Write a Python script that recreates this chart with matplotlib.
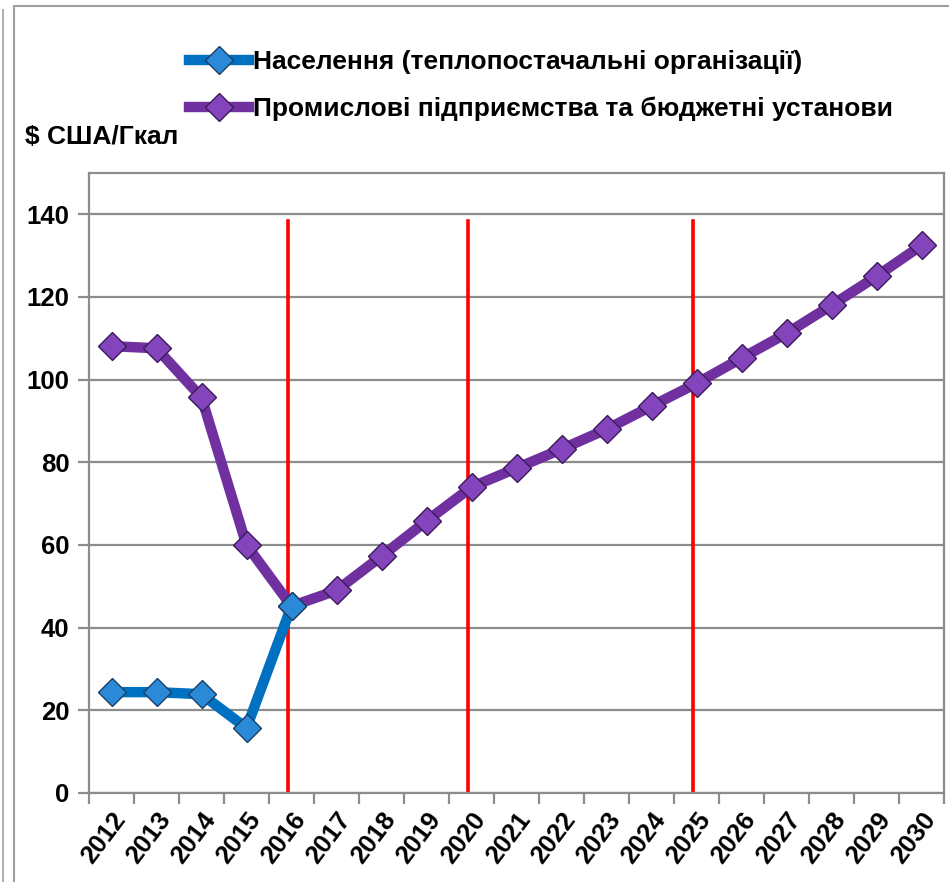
import numpy as np
import matplotlib.pyplot as plt
from matplotlib.patches import Rectangle

plt.rcParams['font.family'] = ['Liberation Sans', 'DejaVu Sans']
plt.rcParams['font.weight'] = 'bold'

years = [str(y) for y in range(2012, 2031)]
population = [24.4, 24.4, 23.9, 15.7, 45.2]
industry = [108.1, 107.6, 95.7, 60.0, 45.2, 49.0, 57.3, 65.8, 74.0, 78.6,
            83.2, 88.0, 93.6, 99.1, 105.2, 111.2, 118.0, 125.0, 132.5]
red_years = ['2016', '2020', '2025']
y_ticks = [0, 20, 40, 60, 80, 100, 120, 140]

label_pop = 'Населення (теплопостачальні організації)'
label_ind = 'Промислові підприємства та бюджетні установи'
unit_label = '$ США/Гкал'

grid_col = '#8c8c8c'

fig = plt.figure(figsize=(9.49, 8.82), dpi=100)
ax = fig.add_axes([89 / 949, 1 - 793 / 882, 855 / 949, 620 / 882])

x_all = np.arange(len(years))

for ry in red_years:
    xi = years.index(ry) - 0.07
    ax.plot([xi, xi], [0, 138.5], color='#ff0000', lw=2.6, zorder=2)

ax.plot(x_all[:len(population)], population, color='#0070c0', lw=7.5,
        marker='D', ms=14, mfc='#2a8ad8', mec='#1c3f66', mew=1.0,
        solid_joinstyle='round', label=label_pop, zorder=4)
ax.plot(x_all, industry, color='#7030a0', lw=7.5,
        marker='D', ms=14, mfc='#8444bc', mec='#3a1a58', mew=1.0,
        solid_joinstyle='round', label=label_ind, zorder=3)

ax.set_xlim(-0.5, len(years) - 0.5)
ax.set_ylim(0, 150)
ax.set_yticks(y_ticks)
ax.set_yticklabels([str(v) for v in y_ticks], fontsize=18.5, fontweight='bold')
ax.yaxis.grid(True, color=grid_col, lw=1.6)
ax.set_axisbelow(True)

ax.set_xticks(x_all)
ax.set_xticklabels(years, rotation=53, ha='right', va='top',
                   rotation_mode='anchor', fontsize=18.5, fontweight='bold')
ax.set_xticks(np.arange(-0.5, len(years)), minor=True)
ax.tick_params(axis='x', which='major', length=0, pad=11)
ax.tick_params(axis='x', which='minor', length=8, width=1.6, color=grid_col,
               direction='out')
ax.tick_params(axis='y', length=8, width=1.6, color=grid_col, direction='out', pad=6)

for sp in ax.spines.values():
    sp.set_color(grid_col)
    sp.set_linewidth(1.6)

fig.legend(loc='upper left', bbox_to_anchor=(165 / 949, 1 - 26 / 882),
           frameon=False, prop={'size': 19, 'weight': 'bold'},
           handlelength=2.3, handletextpad=0.12, labelspacing=0.86)

fig.text(25 / 949, 1 - 137 / 882, unit_label, fontsize=19, fontweight='bold',
         ha='left', va='center')

# outer chart frame
fig.patches.append(Rectangle((14 / 949, -0.01), 1.0, 1 - 6 / 882 + 0.01,
                             transform=fig.transFigure, fill=False,
                             edgecolor='#a0a0a0', lw=1.5))
fig.patches.append(Rectangle((3 / 949, -0.01), 0.0, 1.0,
                             transform=fig.transFigure, fill=False,
                             edgecolor='#b0b0b0', lw=1.2))

fig.savefig('out.png', dpi=100)
